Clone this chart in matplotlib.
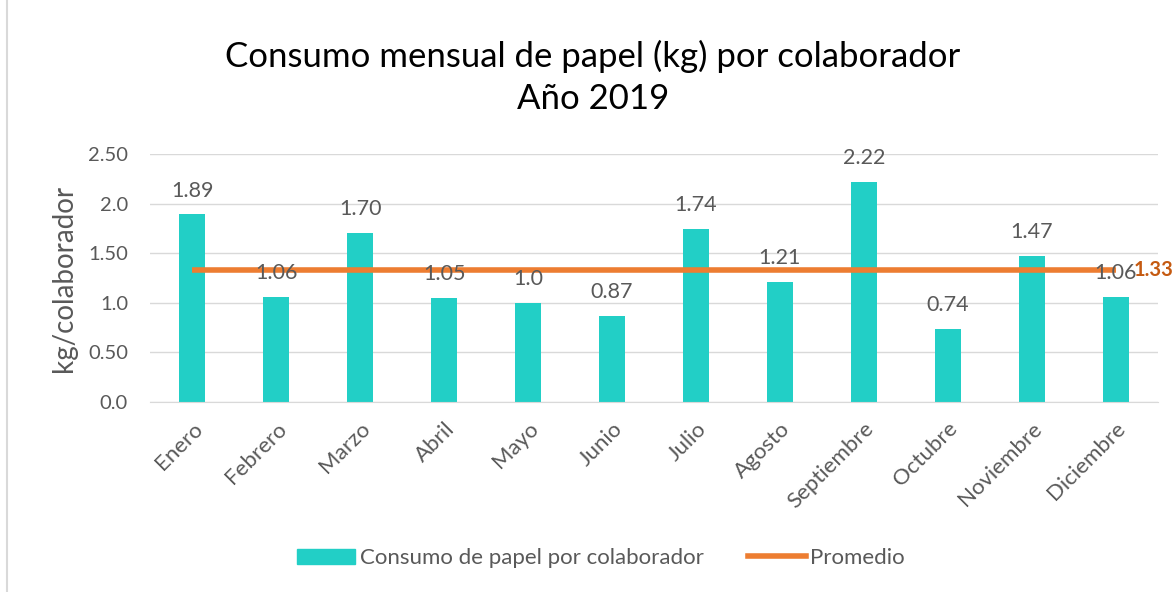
import matplotlib.pyplot as plt
from matplotlib.lines import Line2D
import numpy as np

meses = ['Enero', 'Febrero', 'Marzo', 'Abril', 'Mayo', 'Junio', 'Julio',
         'Agosto', 'Septiembre', 'Octubre', 'Noviembre', 'Diciembre']
consumo = [1.89, 1.06, 1.70, 1.05, 1.00, 0.87, 1.74, 1.21, 2.22, 0.74, 1.47, 1.06]
etiquetas = ['1.89', '1.06', '1.70', '1.05', '1.0', '0.87', '1.74', '1.21',
             '2.22', '0.74', '1.47', '1.06']
promedio = 1.33
yticks = [0.0, 0.5, 1.0, 1.5, 2.0, 2.5]
ytick_labels = ['0.0', '0.50', '1.0', '1.50', '2.0', '2.50']

plt.rcParams['font.family'] = ['Lato', 'DejaVu Sans']
gris = '#595959'
turquesa = '#22CFC6'
naranja = '#ED7D31'

fig = plt.figure(figsize=(11.74, 5.92), dpi=100)
ax = fig.add_axes([0.128, 0.321, 0.858, 0.419])

x = np.arange(len(meses))
ax.bar(x, consumo, width=0.31, color=turquesa, zorder=2)
ax.plot(x, [promedio] * len(x), color=naranja, lw=4, zorder=3, solid_capstyle='butt')

for xi, v, t in zip(x, consumo, etiquetas):
    ax.annotate(t, (xi, v), xytext=(0, 10), textcoords='offset points',
                ha='center', va='bottom', fontsize=15.5, color=gris, zorder=4)
ax.annotate(f'{promedio:.2f}', (x[-1], promedio), xytext=(13, 0),
            textcoords='offset points', ha='left', va='center',
            fontsize=14.5, color='#C55A11', fontweight='bold', annotation_clip=False)

ax.set_xlim(-0.5, len(meses) - 0.5)
ax.set_ylim(0, 2.5)
ax.set_yticks(yticks)
ax.set_yticklabels(ytick_labels)
ax.set_xticks(x)
ax.set_xticklabels(meses, rotation=45, ha='right', rotation_mode='anchor')
ax.tick_params(axis='y', length=0, labelsize=14.5, colors=gris, pad=16)
ax.tick_params(axis='x', length=0, labelsize=16, colors=gris, pad=12)
ax.grid(axis='y', color='#D9D9D9', lw=1, zorder=0)
ax.set_axisbelow(True)
for s in ['top', 'right', 'left']:
    ax.spines[s].set_visible(False)
ax.spines['bottom'].set_color('#D9D9D9')
ax.set_ylabel('kg/colaborador', fontsize=20, color=gris, labelpad=8)

fig.text(0.505, 0.905, 'Consumo mensual de papel (kg) por colaborador',
         ha='center', va='center', fontsize=25, color='black')
fig.text(0.505, 0.832, 'Año 2019', ha='center', va='center', fontsize=25, color='black')

handles = [plt.Rectangle((0, 0), 1, 1, color=turquesa),
           Line2D([0], [0], color=naranja, lw=4)]
fig.legend(handles, ['Consumo de papel por colaborador', 'Promedio'],
           loc='center', bbox_to_anchor=(0.512, 0.057), ncol=2, frameon=False,
           fontsize=16, labelcolor=gris, handlelength=2.6, handletextpad=0.2,
           columnspacing=2.0)

fig.add_artist(Line2D([0.006, 0.006], [0, 1], color='#D9D9D9', lw=1.5))

fig.savefig('out.png', dpi=100)
